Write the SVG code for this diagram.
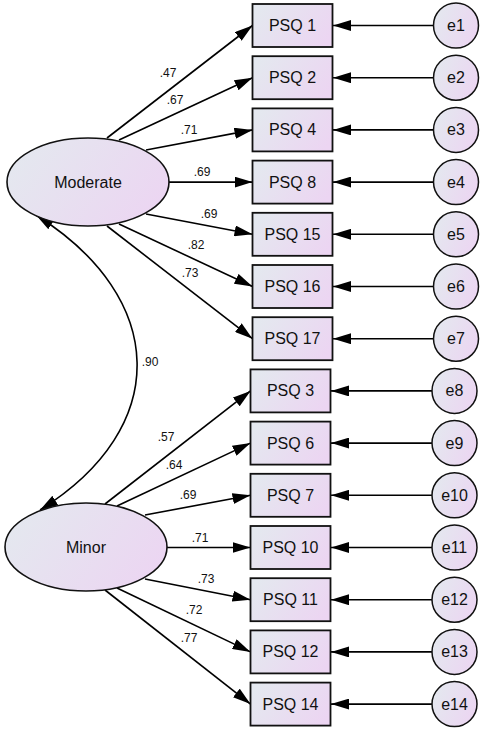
<svg xmlns="http://www.w3.org/2000/svg" width="485" height="729" viewBox="0 0 485 729">
<defs>
<linearGradient id="g" x1="0" y1="0.3" x2="1" y2="0.7">
<stop offset="0" stop-color="#e4e8ef"/>
<stop offset="1" stop-color="#ecd5f2"/>
</linearGradient>
<marker id="ah" markerUnits="userSpaceOnUse" markerWidth="18" markerHeight="11" viewBox="0 0 18 11" refX="18" refY="5.5" orient="auto-start-reverse">
<path d="M0,0 L18,5.5 L0,11 z" fill="#000"/>
</marker>
<style>
.box{fill:url(#g);stroke:#111;stroke-width:1.8}
.lat{fill:url(#g);stroke:#111;stroke-width:1.6}
.err{fill:url(#g);stroke:#111;stroke-width:1.5}
.t{font-family:"Liberation Sans",Arial,sans-serif;font-size:16px;fill:#111;text-anchor:middle}
.l{font-family:"Liberation Sans",Arial,sans-serif;font-size:12px;fill:#111;text-anchor:middle}
.c{stroke:#000;stroke-width:1.6;fill:none;marker-end:url(#ah)}
</style>
</defs>
<g id="connectors">
<path class="c" d="M107,138 L252.5,25.5"/>
<path class="c" d="M119,140 L252.5,77.7"/>
<path class="c" d="M146,150 L252.5,129.9"/>
<path class="c" d="M169,182.1 L252.5,182.1"/>
<path class="c" d="M146,214 L252.5,234.3"/>
<path class="c" d="M119,224 L252.5,286.5"/>
<path class="c" d="M107,226 L252.5,338.7"/>
<path class="c" d="M105,504 L250.5,390.9"/>
<path class="c" d="M117,506 L250.5,443.1"/>
<path class="c" d="M145,515 L250.5,495.3"/>
<path class="c" d="M167,547.5 L250.5,547.5"/>
<path class="c" d="M145,579 L250.5,599.7"/>
<path class="c" d="M117,588 L250.5,651.9"/>
<path class="c" d="M105,590 L250.5,704.1"/>
<path class="c" d="M433.5,25.5 L333,25.5"/>
<path class="c" d="M433.5,77.7 L333,77.7"/>
<path class="c" d="M433.5,129.9 L333,129.9"/>
<path class="c" d="M433.5,182.1 L333,182.1"/>
<path class="c" d="M433.5,234.3 L333,234.3"/>
<path class="c" d="M433.5,286.5 L333,286.5"/>
<path class="c" d="M433.5,338.7 L333,338.7"/>
<path class="c" d="M432,390.9 L331,390.9"/>
<path class="c" d="M432,443.1 L331,443.1"/>
<path class="c" d="M432,495.3 L331,495.3"/>
<path class="c" d="M432,547.5 L331,547.5"/>
<path class="c" d="M432,599.7 L331,599.7"/>
<path class="c" d="M432,651.9 L331,651.9"/>
<path class="c" d="M432,704.1 L331,704.1"/>
<path class="c" style="marker-start:url(#ah)" d="M36,215 C167.6,297.7 172.6,427.3 40,510"/>
<text class="l" x="168" y="77">.47</text>
<text class="l" x="175" y="104">.67</text>
<text class="l" x="189" y="134">.71</text>
<text class="l" x="202" y="176">.69</text>
<text class="l" x="209" y="218">.69</text>
<text class="l" x="196" y="249">.82</text>
<text class="l" x="190" y="277">.73</text>
<text class="l" x="150" y="366">.90</text>
<text class="l" x="166" y="441">.57</text>
<text class="l" x="174" y="469">.64</text>
<text class="l" x="188" y="499">.69</text>
<text class="l" x="200" y="542">.71</text>
<text class="l" x="206" y="583">.73</text>
<text class="l" x="194" y="614">.72</text>
<text class="l" x="189" y="642">.77</text>
</g>
<g id="Moderate"><ellipse class="lat" cx="88" cy="182" rx="81" ry="44"/><text class="t" x="88" y="187.5">Moderate</text></g>
<g id="Minor"><ellipse class="lat" cx="86" cy="547" rx="81" ry="44"/><text class="t" x="86" y="552.5">Minor</text></g>
<g id="PSQ1"><rect class="box" x="252.5" y="4" width="80" height="43"/><text class="t" x="292.5" y="31">PSQ 1</text></g>
<g id="PSQ2"><rect class="box" x="252.5" y="56.2" width="80" height="43"/><text class="t" x="292.5" y="83.2">PSQ 2</text></g>
<g id="PSQ4"><rect class="box" x="252.5" y="108.4" width="80" height="43"/><text class="t" x="292.5" y="135.4">PSQ 4</text></g>
<g id="PSQ8"><rect class="box" x="252.5" y="160.6" width="80" height="43"/><text class="t" x="292.5" y="187.6">PSQ 8</text></g>
<g id="PSQ15"><rect class="box" x="252.5" y="212.8" width="80" height="43"/><text class="t" x="292.5" y="239.8">PSQ 15</text></g>
<g id="PSQ16"><rect class="box" x="252.5" y="265" width="80" height="43"/><text class="t" x="292.5" y="292">PSQ 16</text></g>
<g id="PSQ17"><rect class="box" x="252.5" y="317.2" width="80" height="43"/><text class="t" x="292.5" y="344.2">PSQ 17</text></g>
<g id="PSQ3"><rect class="box" x="250.5" y="369.4" width="80" height="43"/><text class="t" x="290.5" y="396.4">PSQ 3</text></g>
<g id="PSQ6"><rect class="box" x="250.5" y="421.6" width="80" height="43"/><text class="t" x="290.5" y="448.6">PSQ 6</text></g>
<g id="PSQ7"><rect class="box" x="250.5" y="473.8" width="80" height="43"/><text class="t" x="290.5" y="500.8">PSQ 7</text></g>
<g id="PSQ10"><rect class="box" x="250.5" y="526" width="80" height="43"/><text class="t" x="290.5" y="553">PSQ 10</text></g>
<g id="PSQ11"><rect class="box" x="250.5" y="578.2" width="80" height="43"/><text class="t" x="290.5" y="605.2">PSQ 11</text></g>
<g id="PSQ12"><rect class="box" x="250.5" y="630.4" width="80" height="43"/><text class="t" x="290.5" y="657.4">PSQ 12</text></g>
<g id="PSQ14"><rect class="box" x="250.5" y="682.6" width="80" height="43"/><text class="t" x="290.5" y="709.6">PSQ 14</text></g>
<g id="e1"><circle class="err" cx="456" cy="25.5" r="22.5"/><text class="t" x="456" y="31">e1</text></g>
<g id="e2"><circle class="err" cx="456" cy="77.7" r="22.5"/><text class="t" x="456" y="83.2">e2</text></g>
<g id="e3"><circle class="err" cx="456" cy="129.9" r="22.5"/><text class="t" x="456" y="135.4">e3</text></g>
<g id="e4"><circle class="err" cx="456" cy="182.1" r="22.5"/><text class="t" x="456" y="187.6">e4</text></g>
<g id="e5"><circle class="err" cx="456" cy="234.3" r="22.5"/><text class="t" x="456" y="239.8">e5</text></g>
<g id="e6"><circle class="err" cx="456" cy="286.5" r="22.5"/><text class="t" x="456" y="292">e6</text></g>
<g id="e7"><circle class="err" cx="456" cy="338.7" r="22.5"/><text class="t" x="456" y="344.2">e7</text></g>
<g id="e8"><circle class="err" cx="454.5" cy="390.9" r="22.5"/><text class="t" x="454.5" y="396.4">e8</text></g>
<g id="e9"><circle class="err" cx="454.5" cy="443.1" r="22.5"/><text class="t" x="454.5" y="448.6">e9</text></g>
<g id="e10"><circle class="err" cx="454.5" cy="495.3" r="22.5"/><text class="t" x="454.5" y="500.8">e10</text></g>
<g id="e11"><circle class="err" cx="454.5" cy="547.5" r="22.5"/><text class="t" x="454.5" y="553">e11</text></g>
<g id="e12"><circle class="err" cx="454.5" cy="599.7" r="22.5"/><text class="t" x="454.5" y="605.2">e12</text></g>
<g id="e13"><circle class="err" cx="454.5" cy="651.9" r="22.5"/><text class="t" x="454.5" y="657.4">e13</text></g>
<g id="e14"><circle class="err" cx="454.5" cy="704.1" r="22.5"/><text class="t" x="454.5" y="709.6">e14</text></g>
</svg>
